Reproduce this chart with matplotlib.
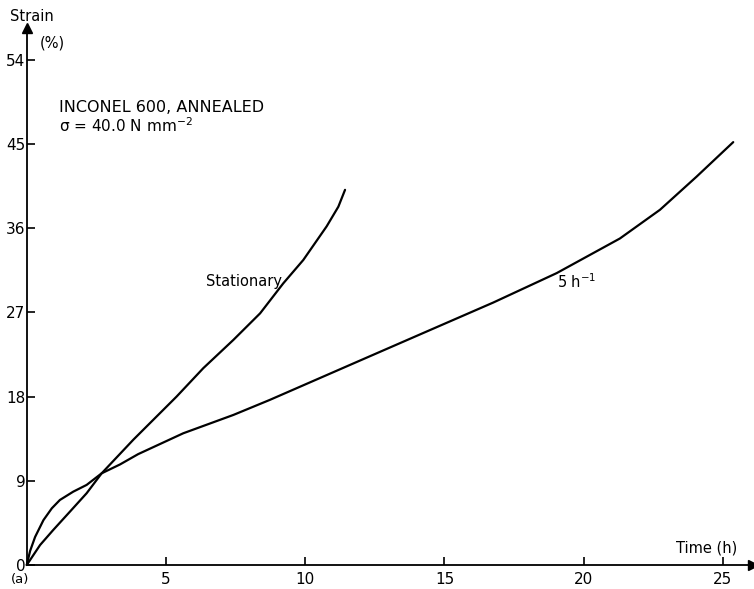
import matplotlib
matplotlib.use("Agg")
import matplotlib.pyplot as plt

# Data
stat_t = [0, 0.48, 0.95, 1.55, 2.15, 2.69, 3.83, 5.38, 6.34, 7.42, 8.38, 9.21, 9.93,
          10.77, 11.19, 11.43]
stat_e = [0, 2.14, 3.74, 5.7, 7.67, 9.8, 13.4, 18.0, 21.04, 24.06, 26.9, 30.1, 32.6,
          36.2, 38.3, 40.1]

cyc_t = [0, 0.12, 0.3, 0.6, 0.9, 1.19, 1.67, 2.15, 2.69, 3.35, 4.0, 5.62, 7.42, 8.73,
         12.08, 14.24, 16.75, 19.03, 21.3, 22.74, 24.05, 25.37]
cyc_e = [0, 1.5, 3.0, 4.8, 6.06, 6.95, 7.84, 8.56, 9.8, 10.75, 11.85, 14.08, 16.04, 17.65,
         22.0, 24.8, 28.05, 31.2, 34.9, 37.97, 41.5, 45.2]

xticks = [5, 10, 15, 20, 25]
yticks = [0, 9, 18, 27, 36, 45, 54]

W, H = 754, 589
fig = plt.figure(figsize=(W / 100, H / 100), dpi=100)
x0, y0 = 26.75, 565
x1, y1 = 753, 28
ax = fig.add_axes([x0 / W, (H - y0) / H, (x1 - x0) / W, (y0 - y1) / H])
ax.set_xlim(0, 26.08)
ax.set_ylim(0, 57.4)

ax.plot(stat_t, stat_e, color="black", lw=1.6, clip_on=False,
        solid_joinstyle="round", solid_capstyle="round")
ax.plot(cyc_t, cyc_e, color="black", lw=1.6, clip_on=False,
        solid_joinstyle="round", solid_capstyle="round")

for s in ["top", "right"]:
    ax.spines[s].set_visible(False)
for s in ["left", "bottom"]:
    ax.spines[s].set_linewidth(1.3)

# arrow heads
ax.plot(1, 0, ">k", transform=ax.transAxes, clip_on=False, ms=6.5)
ax.plot(0, 1, "^k", transform=ax.transAxes, clip_on=False, ms=6.5)

ax.set_xticks(xticks)
ax.set_yticks(yticks)
ax.set_yticklabels([str(v) for v in yticks])
ax.tick_params(direction="in", length=6, width=1.2, labelsize=11)
ax.tick_params(axis="x", pad=5)
ax.tick_params(axis="y", pad=1)

ax.text(0.2, 58.6, "Strain", fontsize=10.5, ha="center", va="center", clip_on=False)
ax.text(0.45, 55.8, "(%)", fontsize=10.5, ha="left", va="center")
ax.text(1.15, 48.9, "INCONEL 600, ANNEALED", fontsize=11.5, ha="left", va="center")
ax.text(1.15, 47.0, r"σ = 40.0 N mm$^{-2}$", fontsize=11, ha="left", va="center")
ax.text(7.8, 30.3, "Stationary", fontsize=10.5, ha="center", va="center")
ax.text(19.75, 30.3, r"5 h$^{-1}$", fontsize=10.5, ha="center", va="center")
ax.text(25.5, 1.0, "Time (h)", fontsize=10.5, ha="right", va="bottom")
ax.text(-0.25, -1.55, "(a)", fontsize=9.5, ha="center", va="center", clip_on=False)

fig.savefig("out.png", dpi=100)
